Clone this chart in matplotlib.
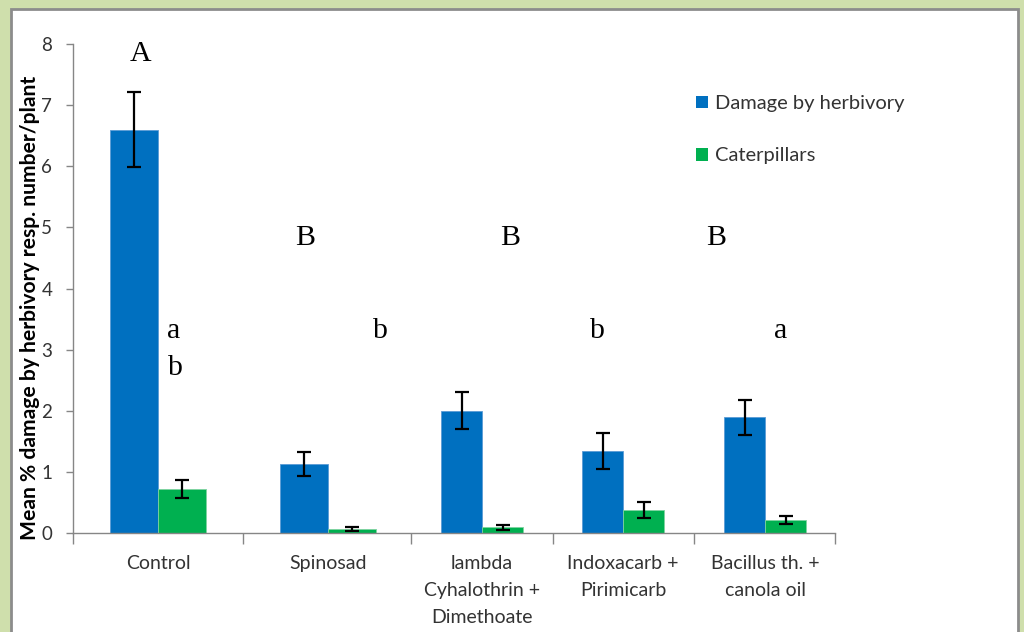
import matplotlib
matplotlib.use("Agg")
import matplotlib.pyplot as plt
from matplotlib.patches import Rectangle, Patch
import numpy as np

# ---- data ----
categories = ["Control", "Spinosad", "lambda\nCyhalothrin +\nDimethoate",
              "Indoxacarb +\nPirimicarb", "Bacillus th. +\ncanola oil"]
damage = [6.60, 1.13, 2.00, 1.34, 1.89]
damage_se = [0.62, 0.20, 0.30, 0.30, 0.28]
caterpillars = [0.72, 0.07, 0.09, 0.38, 0.21]
caterpillars_se = [0.15, 0.035, 0.045, 0.135, 0.07]
yticks = [0, 1, 2, 3, 4, 5, 6, 7, 8]

# significance letters (text, x, y)
letters = [("A", 0.44, 7.84), ("B", 1.52, 4.83), ("B", 2.87, 4.83), ("B", 4.22, 4.83),
           ("a", 0.66, 3.31), ("b", 0.67, 2.70), ("b", 2.02, 3.31),
           ("b", 3.44, 3.31), ("a", 4.64, 3.31)]

# ---- layout ----
group_edges = [0, 1.115, 2.218, 3.150, 4.075, 5.0]
centers = [0.558, 1.673, 2.684, 3.609, 4.541]
widths = [0.315, 0.315, 0.269, 0.269, 0.269]

blue = "#0070C0"
green = "#00B050"
axis_gray = "#868686"
text_col = "#333333"

fig = plt.figure(figsize=(10.24, 6.32), dpi=100)
fig.patch.set_facecolor("#cfdfac")

# white panel with grey frame behind the chart
bg = fig.add_axes([0, 0, 1, 1], zorder=-5)
bg.set_axis_off()
bg.set_xlim(0, 1024)
bg.set_ylim(632, 0)
bg.add_patch(Rectangle((11, 9), 1007, 660, facecolor="white",
                       edgecolor="#8c8c8c", linewidth=2))

ax = fig.add_axes([73 / 1024, 1 - 533 / 632, 762 / 1024, 489 / 632])
ax.set_facecolor("none")

c = np.array(centers)
w = np.array(widths)
err_kw = dict(ecolor="black", elinewidth=1.6, capsize=5, capthick=1.6)
ax.bar(c - w / 2, damage, width=w, color=blue, edgecolor="#5b9bd5",
       linewidth=0.6, yerr=damage_se, error_kw=err_kw, zorder=2)
ax.bar(c + w / 2, caterpillars, width=w, color=green, edgecolor="#7fd3a0",
       linewidth=0.6, yerr=caterpillars_se, error_kw=err_kw, zorder=2)

ax.set_xlim(group_edges[0], group_edges[-1])
ax.set_ylim(0, 8)

# category labels centered in each group, separators as ticks
ax.set_xticks(group_edges)
ax.set_xticklabels([])
ax.tick_params(axis="x", direction="out", length=8, width=1, color=axis_gray)
for ci, lab in zip(centers, categories):
    ax.text(ci, -0.36, lab, ha="center", va="top", fontsize=14,
            family="Lato", color=text_col, linespacing=1.72,
            transform=ax.transData)

ax.set_yticks(yticks)
ax.set_yticklabels([str(t) for t in yticks], fontsize=13.5, family="Lato",
                   color=text_col)
ax.tick_params(axis="y", direction="out", length=5, width=1, color=axis_gray, pad=10)

for s in ["top", "right"]:
    ax.spines[s].set_visible(False)
for s in ["left", "bottom"]:
    ax.spines[s].set_color(axis_gray)
    ax.spines[s].set_linewidth(1)

ax.set_ylabel("Mean % damage by herbivory resp. number/plant", fontsize=15.2,
              family="Lato", fontweight="bold", color="black")
ax.yaxis.set_label_coords(-0.043, 0.46)

for t, x, y in letters:
    ax.text(x, y, t, ha="center", va="center", fontsize=21.5,
            family="Liberation Serif", color="black")

handles = [Patch(facecolor=blue, label="Damage by herbivory"),
           Patch(facecolor=green, label="Caterpillars")]
leg = fig.legend(handles=handles, loc="upper left",
                 bbox_to_anchor=(678 / 1024, 1 - 77 / 632), frameon=False,
                 prop={"family": "Lato", "size": 14.5}, handlelength=0.6,
                 handleheight=0.6, handletextpad=0.35, labelspacing=1.75)
for txt in leg.get_texts():
    txt.set_color(text_col)

fig.savefig("out.png", dpi=100, facecolor=fig.get_facecolor())
